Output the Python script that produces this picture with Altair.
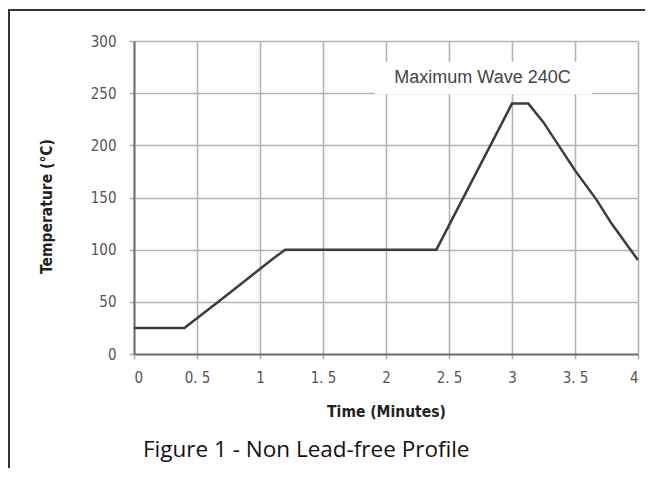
import altair as alt
import pandas as pd

# ---- data ----
time_min = [0, 0.4, 0.7, 1.1, 1.2, 2.4, 3.0, 3.13, 3.25, 3.5, 3.67, 3.79, 4.0]
temp_c = [25, 25, 53, 91, 100, 100, 240, 240, 222, 176, 148, 125, 90]
x_ticks = [0, 0.5, 1, 1.5, 2, 2.5, 3, 3.5, 4]
y_ticks = [0, 50, 100, 150, 200, 250, 300]
annot_label = ["Maximum Wave 240C"]
annot_t = [2.766]
annot_T = [259.5]
annot_box_t = [1.913, 3.635]
annot_box_T = [249.0, 280.0]
caption = "Figure 1 - Non Lead-free Profile"

df = pd.DataFrame({"t": time_min, "T": temp_c})
ann = pd.DataFrame({"label": annot_label, "t": annot_t, "T": annot_T})
box = pd.DataFrame({"t1": [annot_box_t[0]], "t2": [annot_box_t[1]],
                    "T1": [annot_box_T[0]], "T2": [annot_box_T[1]]})

W, H = 504, 313
PAD_L, PAD_T, PAD_R, PAD_B = 126, 33, 7, 114

NARROW = "'DejaVu Sans Condensed', 'Liberation Sans Narrow', Roboto, sans-serif"
GRID = "#b4b4b4"

x_scale = alt.Scale(domain=[0, 4], nice=False, zero=False)
y_scale = alt.Scale(domain=[0, 300], nice=False)

x_axis = alt.Axis(
    values=x_ticks, title="Time (Minutes)",
    labelExpr="replace(format(datum.value, '~g'), '.', '. ')",
    grid=True, gridColor=GRID, gridWidth=1.6,
    domainColor="#707070", domainWidth=2,
    tickColor=GRID, tickWidth=1.6, tickSize=5,
    labelFont=NARROW, labelFontSize=15, labelColor="#555555", labelPadding=11,
    titleFont=NARROW, titleFontSize=15.5, titleFontWeight="bold", titleColor="#222222",
    titleY=50, titleBaseline="top",
)
y_axis = alt.Axis(
    values=y_ticks, title="Temperature (\u00b0C)",
    grid=True, gridColor=GRID, gridWidth=1.6,
    domainColor="#707070", domainWidth=2,
    tickColor=GRID, tickWidth=1.6, tickSize=5,
    labelFont=NARROW, labelFontSize=15, labelColor="#555555", labelPadding=13,
    titleFont=NARROW, titleFontSize=15.5, titleFontWeight="bold", titleColor="#222222",
    titleX=-88, titleY=165, titleBaseline="middle", titleAngle=-90,
)

base = alt.Chart(df)

line = base.mark_line(color="#3c3c3c", strokeWidth=2.5).encode(
    x=alt.X("t:Q", scale=x_scale, axis=x_axis),
    y=alt.Y("T:Q", scale=y_scale, axis=y_axis),
)

rect = alt.Chart(box).mark_rect(fill="white").encode(
    x=alt.X("t1:Q", scale=x_scale), x2="t2:Q",
    y=alt.Y("T1:Q", scale=y_scale), y2="T2:Q",
)

label = alt.Chart(ann).mark_text(
    font="'Liberation Sans', Arial, sans-serif", fontSize=18, color="#444444",
    align="center", baseline="alphabetic",
).encode(
    x=alt.X("t:Q", scale=x_scale), y=alt.Y("T:Q", scale=y_scale), text="label:N"
)

cap = alt.Chart(pd.DataFrame({"c": [caption]})).mark_text(
    font="'Open Sans', 'Noto Sans', sans-serif", fontSize=22.5, color="#111111",
    align="left", baseline="alphabetic",
).encode(x=alt.value(9), y=alt.value(416), text="c:N")

frame_left = alt.Chart(pd.DataFrame({"k": [0]})).mark_rule(color="#333333", strokeWidth=2).encode(
    x=alt.value(-125), y=alt.value(-31), y2=alt.value(H + PAD_B + 10)
)
frame_top = alt.Chart(pd.DataFrame({"k": [0]})).mark_rule(color="#333333", strokeWidth=2).encode(
    x=alt.value(-126), x2=alt.value(W + PAD_R + 20), y=alt.value(-31)
)

chart = alt.layer(rect, line, label, cap, frame_left, frame_top).properties(
    width=W, height=H,
    autosize=alt.AutoSizeParams(type="none"),
    padding={"left": PAD_L, "top": PAD_T, "right": PAD_R, "bottom": PAD_B},
).configure_view(stroke=None).configure(background="white")

chart.save("out.html", embed_options={"renderer": "svg", "actions": False})
